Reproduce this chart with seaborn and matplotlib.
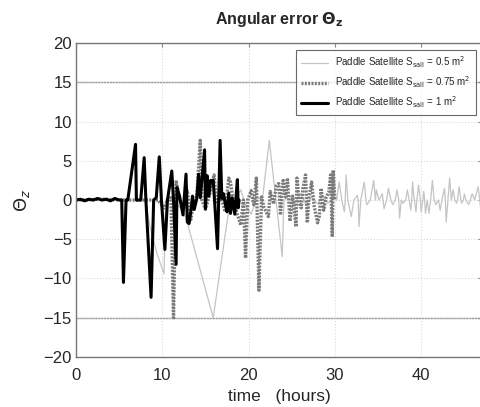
import numpy as np
import pandas as pd
import matplotlib
matplotlib.use("Agg")
import matplotlib.pyplot as plt
import seaborn as sns

# Paddle satellite, S_sail = 0.5 m^2 (thin light grey)
t_05 = [0, 2, 4, 6.0, 6.9, 7.0, 8.0, 8.6, 9.4, 10.2,
        10.4, 11.0, 11.6, 12.4, 12.9, 15.9, 17.7, 19.1, 19.7, 20.3,
        21.0, 21.6, 22.4, 23.9, 24.1, 24.8, 25.3, 26.0, 26.7, 27.3,
        28.0, 28.6, 29.2, 29.8, 30.2, 30.5, 30.8, 31.1, 31.2, 31.3,
        31.5, 31.9, 32.2, 32.6, 32.7, 32.8, 33.0, 33.4, 33.6, 33.7,
        34.1, 34.5, 34.7, 34.8, 35.1, 35.5, 35.7, 36.0, 36.2, 36.5,
        36.7, 37.0, 37.2, 37.4, 37.5, 37.7, 37.9, 38.2, 38.4, 38.6,
        38.8, 38.9, 39.0, 39.2, 39.4, 39.5, 39.7, 39.9, 40.0, 40.2,
        40.3, 40.4, 40.5, 40.7, 40.9, 41.1, 41.3, 41.5, 41.7, 42.0,
        42.2, 42.4, 42.7, 42.8, 42.9, 43.1, 43.3, 43.5, 43.7, 43.9,
        44.1, 44.2, 44.4, 44.6, 44.7, 44.9, 45.0, 45.2, 45.5, 45.7,
        45.9, 46.2, 46.6, 46.8, 46.9, 47.1, 47.3]
v_05 = [0, 0.1, 0, 0, 6.8, 0, 0, -3.5, -6.9, -9.4,
        0, 0.3, -0.5, -1.3, -2.9, -15.0, -1.3, 1.3, -0.8, -1.8,
        0.4, 0, 7.6, -7.2, 0, 0.6, -0.5, 0.8, -0.6, 0.4,
        -0.5, 0.6, -0.4, 0.3, 0, 2.3, 0, -1.5, 0, 3.2,
        0, -2.1, 0, 0.6, 0, -3.4, 0, 2.3, 0, -0.6,
        0, 2.5, 0, 1.3, 0, 0.8, -1.1, 0, 1.5, 0,
        -0.6, 0, 1.3, 0, -2.3, 0, -0.4, 0, 1.3, 0,
        -1.3, 0, 2.3, 0, -1.5, 0, 1.9, 0, -1.5, 0,
        1.1, 0, -1.7, 0, -1.7, 0, 2.5, 0, -0.6, 0,
        -1.3, 0, 1.5, 0, -2.8, 0, 2.8, 0, 1.3, 0,
        -0.4, 0, 1.7, 0, -0.4, 0, 0.8, 0, -0.6, 0,
        0.8, 0, 1.7, 0, -1.3, 0, 0.5]

# Paddle satellite, S_sail = 0.75 m^2 (dotted grey)
t_075 = [0, 3, 6, 9.5, 10.2, 10.6, 11.0, 11.3, 11.6, 12.0,
         12.5, 12.9, 13.3, 13.7, 14.0, 14.4, 14.6, 15.0, 15.5, 16.0,
         16.3, 16.8, 17.3, 17.7, 17.9, 18.2, 18.6, 19.1, 19.4, 19.65,
         19.9, 20.3, 20.6, 20.9, 21.2, 21.5, 21.8, 22.3, 22.5, 22.9,
         23.2, 23.5, 23.7, 24.0, 24.3, 24.5, 24.8, 25.1, 25.5, 25.6,
         25.9, 26.1, 26.3, 26.6, 26.8, 27.0, 27.3, 27.6, 28.0, 28.2,
         28.4, 28.7, 29.0, 29.3, 29.5, 29.7, 29.8, 30.0]
v_075 = [0, 0.1, 0, 0, -1.0, 0, 0.3, -15.0, 2.5, 0,
         -1.0, 1.2, -2.5, 0, 0.5, 7.6, 0, -1.2, 0.8, 3.2,
         -0.5, 0.4, -1.5, 2.8, 2.3, 0, -1.5, -3.2, 0, -7.4,
         0, 1.2, -0.6, 2.8, -11.5, 0.4, -1.0, -2.1, 1.1, -0.5,
         1.8, 2.1, -1.9, 2.5, 0.4, 2.8, -2.7, 0.5, -3.4, 2.8,
         -0.4, -1.0, 1.5, 3.2, -2.9, 0.3, 2.3, -0.8, -2.9, -2.0,
         1.5, -1.3, 0.4, 1.0, 3.2, -4.7, 3.8, 0]

# Paddle satellite, S_sail = 1 m^2 (thick black)
t_1 = [0, 0.5, 1.0, 1.5, 2.0, 2.5, 3.0, 3.5, 4.0, 4.5,
       5.0, 5.3, 5.5, 5.8, 6.0, 6.9, 7.0, 7.5, 7.9, 8.1,
       8.7, 9.0, 9.3, 9.65, 9.9, 10.3, 10.6, 11.1, 11.3, 11.6,
       11.7, 12.0, 12.4, 12.75, 12.9, 13.1, 13.3, 13.5, 13.7, 14.0,
       14.2, 14.4, 14.9, 15.0, 15.2, 15.4, 15.6, 15.9, 16.1, 16.4,
       16.7, 16.9, 17.1, 17.3, 17.5, 17.7, 17.9, 18.1, 18.4, 18.7,
       18.8, 18.9]
v_1 = [0, 0.1, -0.1, 0.1, 0.0, 0.2, 0.0, 0.1, -0.1, 0.2,
       0.0, 0.0, -10.5, 0.0, 0.0, 7.1, 0.0, 0.0, 5.4, 0.0,
       -12.4, 0.0, 0.3, 5.5, 0.0, -6.3, 0.0, 3.7, 0.0, -8.2,
       1.6, 0.5, -1.9, 3.3, -2.8, -3.0, -1.5, 0.5, -1.2, 0.2,
       3.3, 0.3, 6.4, -1.1, 3.1, 0.5, 2.5, 2.5, -0.8, -6.2,
       7.6, 0.2, 0.8, -0.5, -1.5, 0.9, -1.7, 0.3, -1.8, 2.6,
       -1.0, 0]

labels = [r"Paddle Satellite S$_{\mathrm{sail}}$ = 0.5 m$^2$",
          r"Paddle Satellite S$_{\mathrm{sail}}$ = 0.75 m$^2$",
          r"Paddle Satellite S$_{\mathrm{sail}}$ = 1 m$^2$"]

sns.set_style("white")
plt.rcParams["font.family"] = ["Liberation Sans", "DejaVu Sans"]

fig = plt.figure(figsize=(4.81, 4.07), dpi=100)
ax = fig.add_axes([0.158, 0.123, 0.845, 0.771])

df05 = pd.DataFrame({"t": t_05, "v": v_05})
df075 = pd.DataFrame({"t": t_075, "v": v_075})
df1 = pd.DataFrame({"t": t_1, "v": v_1})

sns.lineplot(data=df05, x="t", y="v", ax=ax, color="#c4c4c4", lw=0.9,
             estimator=None, sort=False, label=labels[0])
sns.lineplot(data=df075, x="t", y="v", ax=ax, color="#7a7a7a", lw=2.4,
             linestyle=(0, (0.6, 0.4)), estimator=None, sort=False, label=labels[1])
sns.lineplot(data=df1, x="t", y="v", ax=ax, color="black", lw=2.2,
             estimator=None, sort=False, label=labels[2])

# limit lines at +/-15
ax.axhline(15, color="#9a9a9a", lw=1.0, zorder=0)
ax.axhline(-15, color="#9a9a9a", lw=1.0, zorder=0)

ax.set_xlim(0, 47.1)
ax.set_ylim(-20, 20)
ax.set_xticks([0, 10, 20, 30, 40])
ax.set_yticks([-20, -15, -10, -5, 0, 5, 10, 15, 20])
ax.grid(True, color="#d9d9d9", linestyle=":", lw=0.8)
ax.tick_params(direction="in", top=True, right=True, length=3,
               color="#888888", labelsize=12, pad=3)
ax.tick_params(axis="x", pad=8)
for s in ["left", "bottom", "top"]:
    ax.spines[s].set_color("#777777")
    ax.spines[s].set_linewidth(1.0)
ax.spines["right"].set_visible(False)

ax.set_title(r"Angular error $\mathbf{\Theta_z}$", fontsize=11.5,
             fontweight="bold", pad=14)
ax.set_xlabel("time   (hours)", fontsize=12.5, labelpad=4)
ax.set_ylabel(r"$\Theta_z$", fontsize=13, labelpad=8)

leg = ax.legend(loc="upper right", bbox_to_anchor=(0.995, 0.995), fontsize=7,
                frameon=True, fancybox=False, handlelength=2.8,
                borderpad=0.5, labelspacing=0.45, handletextpad=0.7)
leg.get_frame().set_edgecolor("#444444")
leg.get_frame().set_linewidth(0.8)

fig.savefig("out.png", dpi=100)
